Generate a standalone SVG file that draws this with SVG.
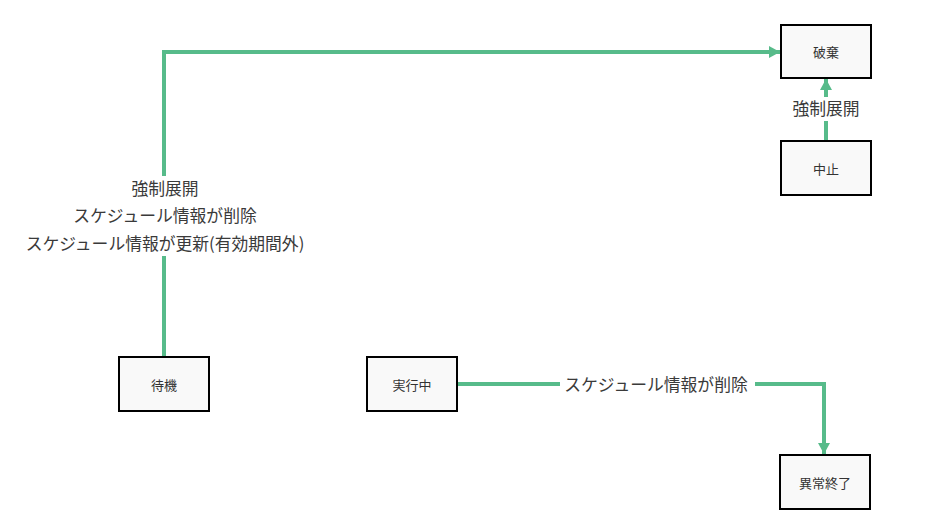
<svg xmlns="http://www.w3.org/2000/svg" width="927" height="524" viewBox="0 0 927 524">
<style>
.node rect{fill:#f9f9f9;stroke:#000;stroke-width:2}
.node text{font-family:"Noto Sans CJK JP",sans-serif;font-size:13px;fill:#333;text-anchor:middle;dominant-baseline:central}
.edge{fill:none;stroke:#57bb8a;stroke-width:4}
.lbl rect{fill:#fff}
.lbl text{font-family:"Noto Sans CJK JP",sans-serif;font-size:16.8px;fill:#3a3a3a;text-anchor:middle;dominant-baseline:central}
</style>
<defs>
<marker id="arr" markerUnits="userSpaceOnUse" markerWidth="12" markerHeight="12" refX="11" refY="6" orient="auto">
<path d="M0,0 L11,6 L0,12 z" fill="#57bb8a"/>
</marker>
</defs>
<rect width="927" height="524" fill="#fff"/>
<g id="connectors">
<path class="edge" d="M164,356 L164,52 L780,52" marker-end="url(#arr)"/>
<path class="edge" d="M826,141 L826,79" marker-end="url(#arr)"/>
<path class="edge" d="M457,384 L824,384 L824,454" marker-end="url(#arr)"/>
<g class="lbl">
<rect x="18" y="176" width="294" height="80"/>
<text x="165" y="188">強制展開</text>
<text x="165" y="215">スケジュール情報が削除</text>
<text x="165" y="243">スケジュール情報が更新(有効期間外)</text>
</g>
<g class="lbl">
<rect x="789" y="97" width="74" height="24"/>
<text x="826" y="108">強制展開</text>
</g>
<g class="lbl">
<rect x="560" y="372" width="195" height="24"/>
<text x="656" y="384">スケジュール情報が削除</text>
</g>
</g>
<g id="node-haki" class="node"><rect x="781" y="25" width="90" height="53"/><text x="826" y="51">破棄</text></g>
<g id="node-chushi" class="node"><rect x="781" y="141" width="90" height="54"/><text x="826" y="168">中止</text></g>
<g id="node-taiki" class="node"><rect x="119" y="357" width="90" height="54"/><text x="164" y="384">待機</text></g>
<g id="node-jikkochu" class="node"><rect x="367" y="357" width="90" height="54"/><text x="412" y="384">実行中</text></g>
<g id="node-ijoshuryo" class="node"><rect x="780" y="455" width="90" height="54"/><text x="825" y="482">異常終了</text></g>
</svg>
